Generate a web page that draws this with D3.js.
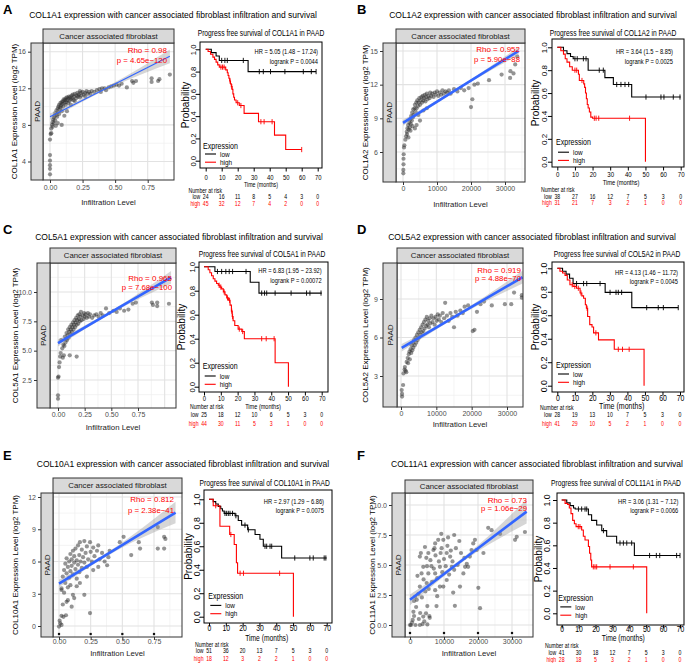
<!DOCTYPE html>
<html><head><meta charset="utf-8">
<script src="https://cdn.jsdelivr.net/npm/d3@7"></script>
<style>body{margin:0;background:#fff}svg{display:block}</style>
</head><body>
<script>
// ---------------- DATA ----------------
const panelLetters = ["A","B","C","D","E","F"];
const genes = ["COL1A1","COL1A2","COL5A1","COL5A2","COL10A1","COL11A1"];
const mainTitles = [
 "COL1A1 expression with cancer associated fibroblast infiltration and survival",
 "COL1A2  expression with cancer associated fibroblast infiltration and survival",
 "COL5A1 expression with cancer associated fibroblast infiltration and survival",
 "COL5A2 expression with cancer associated fibroblast infiltration and survival",
 "COL10A1 expression with cancer associated fibroblast infiltration and survival",
 "COL11A1 expression with cancer associated fibroblast infiltration and survival"];
const stripTopLabel = "Cancer associated fibroblast";
const stripSideLabel = "PAAD";
const xAxisTitle = "Infiltration Level";
const rhoLabels = ["Rho = 0.98","Rho = 0.952","Rho = 0.965","Rho = 0.919","Rho = 0.812","Rho = 0.73"];
const pLabels = ["p = 4.65e\u2212120","p = 5.90e\u221288","p = 7.68e\u2212100","p = 4.88e\u221270","p = 2.38e\u221241","p = 1.06e\u221229"];
const hrLabels = ["HR = 5.05 (1.48 \u2212 17.24)","HR = 3.64 (1.5 \u2212 8.85)","HR = 6.83 (1.95 \u2212 23.92)","HR = 4.13 (1.46 \u2212 11.72)","HR = 2.97 (1.29 \u2212 6.86)","HR = 3.06 (1.31 \u2212 7.12)"];
const logrankLabels = ["logrank P = 0.0044","logrank P = 0.0025","logrank P = 0.00072","logrank P = 0.0045","logrank P = 0.0075","logrank P = 0.0066"];

const fracTicks = [0,0.25,0.5,0.75];
const countTicks = [0,10000,20000,30000];
const yTicksA = [4,8,12,16], yTicksB = [6,9,12,15], yTicksC = [2.5,5,7.5,10],
      yTicksD = [3,6,9], yTicksE = [0,3,6,9,12], yTicksF = [0,2.5,5,7.5,10];
const timeTicks = [0,10,20,30,40,50,60,70];
const probTicks = [0,0.2,0.4,0.6,0.8,1.0];
const riskTimes = [0,10,20,30,40,50,60,70];

const riskLowA = [24,16,11,8,5,4,3,0],  riskHighA = [45,32,12,7,4,2,0,0];
const riskLowB = [38,27,16,12,7,5,3,0], riskHighB = [31,21,7,3,2,1,0,0];
const riskLowC = [25,18,12,10,6,5,3,0], riskHighC = [44,30,11,5,3,1,0,0];
const riskLowD = [28,19,13,10,7,5,3,0], riskHighD = [41,29,10,5,2,1,0,0];
const riskLowE = [51,36,20,13,7,5,3,0], riskHighE = [18,12,3,2,2,1,0,0];
const riskLowF = [41,30,18,12,7,5,3,0], riskHighF = [28,18,5,3,2,1,0,0];

// scatter points [infiltration, expression]
const scatterA = [[0,2.6],[0,3.2],[0,3.6],[0,4.1],[0,4.7],[0,6.4],[0.005,7.0],[0.01,7.1],[0.01,7.6],[0.015,8.0],[0.02,8.3],[0.02,7.8],[0.025,8.6],[0.03,8.2],[0.03,8.8],[0.035,9.0],[0.04,8.5],[0.04,9.3],[0.045,7.9],[0.05,9.1],[0.05,9.6],[0.055,8.9],[0.06,9.4],[0.06,9.8],[0.065,10.0],[0.07,9.2],[0.07,10.2],[0.075,9.7],[0.08,10.4],[0.08,9.9],[0.085,10.1],[0.09,10.5],[0.09,9.5],[0.095,10.3],[0.1,10.6],[0.1,10.0],[0.105,10.8],[0.11,10.4],[0.115,10.7],[0.12,10.2],[0.12,10.9],[0.125,10.5],[0.13,11.0],[0.13,10.7],[0.14,10.4],[0.14,10.9],[0.145,11.1],[0.15,10.6],[0.155,11.0],[0.16,10.8],[0.165,11.2],[0.17,10.9],[0.175,11.3],[0.18,10.7],[0.185,11.1],[0.19,11.4],[0.2,10.9],[0.205,11.2],[0.21,11.5],[0.215,11.1],[0.22,11.3],[0.23,11.0],[0.235,11.5],[0.24,11.2],[0.25,11.6],[0.26,11.3],[0.27,11.5],[0.28,11.7],[0.29,11.4],[0.3,11.6],[0.31,11.4],[0.32,11.7],[0.34,11.6],[0.36,11.8],[0.38,11.9],[0.39,11.6],[0.4,12.0],[0.42,12.0],[0.43,11.8],[0.45,12.1],[0.47,12.2],[0.49,12.3],[0.51,12.4],[0.53,12.3],[0.55,12.5],[0.59,12.1],[0.63,12.8],[0.64,12.6],[0.66,12.8],[0.78,13.1],[0.78,12.7],[0.83,12.8],[0.84,13.0],[0.92,13.5],[0.06,8.2],[0.09,8.0],[0.11,9.0],[0.13,9.5],[0.16,10.2],[0.19,10.6],[0.23,11.7],[0.27,11.1]];
const scatterB = [[100,4.1],[100,4.4],[150,4.9],[150,5.4],[200,5.8],[300,6.4],[400,6.6],[700,7.1],[900,7.4],[1100,7.8],[1300,8.1],[1500,8.4],[1200,7.6],[1700,8.0],[1900,8.6],[2000,8.2],[2100,8.9],[2300,8.5],[2400,9.2],[2600,8.8],[2700,9.5],[2900,9.1],[3000,9.8],[3200,9.3],[3400,9.9],[3500,10.2],[3700,9.6],[3900,10.4],[4000,9.9],[4200,10.6],[4400,10.1],[4600,10.4],[4800,10.8],[5000,10.2],[5200,10.6],[5400,10.9],[5600,10.4],[5800,11.0],[6000,10.6],[6200,10.8],[6400,11.1],[6600,10.5],[6800,10.9],[7000,11.2],[7200,10.7],[7500,11.0],[7800,10.8],[8000,11.3],[8300,11.0],[8600,11.2],[9000,10.9],[9300,11.3],[9600,11.1],[10000,11.4],[10400,11.0],[10800,11.3],[11200,11.1],[11600,11.5],[12000,11.2],[12500,11.4],[13000,11.3],[13500,11.5],[14000,11.2],[15000,11.6],[16000,11.4],[17000,11.7],[18000,11.5],[19300,11.7],[20000,10.0],[20400,10.7],[21000,12.0],[22000,12.1],[25300,12.4],[29000,12.9],[31500,12.6],[31600,13.2],[32500,13.0],[33000,13.8],[33600,14.5],[3500,8.1],[4000,8.4],[5000,8.8],[4500,9.3],[6000,9.7],[7000,9.9],[2200,7.9],[2800,8.3],[1600,7.3]];
const scatterC = [[0,0.9],[0,1.2],[0,2.7],[0.005,2.8],[0.01,3.6],[0.015,4.0],[0.02,4.5],[0.025,4.8],[0.03,5.9],[0.04,5.2],[0.045,4.4],[0.05,5.5],[0.055,4.6],[0.06,5.4],[0.065,6.2],[0.07,5.7],[0.075,6.0],[0.08,6.5],[0.085,5.9],[0.09,6.3],[0.095,6.8],[0.1,6.1],[0.105,6.6],[0.11,4.6],[0.11,7.0],[0.115,6.4],[0.12,6.8],[0.125,7.2],[0.13,6.6],[0.135,7.0],[0.14,7.4],[0.145,6.8],[0.15,7.2],[0.155,7.6],[0.16,7.0],[0.165,7.4],[0.17,7.8],[0.175,4.5],[0.175,7.2],[0.18,7.6],[0.185,8.0],[0.19,7.3],[0.195,7.7],[0.2,8.1],[0.205,7.5],[0.21,7.9],[0.215,8.3],[0.22,7.6],[0.23,8.0],[0.24,7.7],[0.245,8.2],[0.25,7.9],[0.26,8.1],[0.27,7.8],[0.28,8.2],[0.29,7.9],[0.3,8.1],[0.32,7.8],[0.34,8.0],[0.36,8.1],[0.38,7.9],[0.4,8.2],[0.42,8.0],[0.45,8.6],[0.48,8.2],[0.52,8.4],[0.55,8.3],[0.58,8.6],[0.62,8.4],[0.66,8.5],[0.7,9.0],[0.73,9.1],[0.88,9.1],[0.89,8.9],[0.93,9.1],[0.93,8.8],[1.04,9.0]];
const scatterD = [[300,1.4],[300,1.6],[200,1.9],[600,2.3],[700,3.2],[1000,3.5],[1500,3.3],[1100,3.7],[1600,4.1],[1300,3.4],[1900,4.4],[2000,4.0],[2200,4.7],[2400,4.9],[2500,4.3],[2700,5.1],[2900,4.8],[3000,5.4],[3200,5.0],[3400,5.6],[3500,5.2],[3700,5.8],[3900,5.4],[4100,6.0],[4300,5.6],[4500,6.2],[4700,5.8],[4900,6.4],[5100,6.0],[5300,6.6],[5500,6.2],[5700,6.8],[5900,6.4],[6100,7.0],[6300,6.5],[6500,7.2],[6700,6.7],[6900,7.4],[7100,6.9],[7300,7.6],[7500,7.0],[7700,7.3],[7900,6.8],[8100,7.5],[8300,7.1],[8600,7.7],[8900,7.2],[9200,7.5],[9500,7.0],[9800,7.6],[10100,7.3],[10400,7.8],[10700,7.4],[11000,7.7],[11400,7.2],[11800,7.9],[12200,7.5],[12500,8.7],[13000,7.7],[13500,7.3],[14000,7.9],[14500,7.6],[15000,6.8],[15500,8.0],[16000,7.7],[16800,8.1],[17500,7.9],[18000,8.4],[19000,8.5],[20300,6.5],[20800,6.6],[21500,8.0],[22500,8.6],[23500,8.8],[25700,8.5],[29400,8.6],[31200,8.6],[32000,9.5],[34200,9.1],[34200,9.3]];
const scatterE = [[0,-0.05],[0.005,0.5],[0.01,0.25],[0.02,0.1],[0.02,0.95],[0.035,0.85],[0.055,1.0],[0.1,1.8],[0.06,2.25],[0.07,2.4],[0.12,2.6],[0.11,2.9],[0.2,2.9],[0.245,1.2],[0.02,3.35],[0.02,3.5],[0.05,4.0],[0.09,3.8],[0.14,3.7],[0.165,4.0],[0.22,4.6],[0.27,5.2],[0.31,5.5],[0.38,5.65],[0.39,6.4],[0.4,7.0],[0.48,7.8],[0.51,8.3],[0.57,6.6],[0.63,7.8],[0.64,7.2],[0.78,9.2],[0.78,7.2],[0.83,7.2],[0.83,8.3],[0.84,8.1],[0.03,4.6],[0.04,5.2],[0.05,5.8],[0.06,4.9],[0.06,6.3],[0.07,5.5],[0.08,6.0],[0.08,4.5],[0.09,6.7],[0.09,5.1],[0.1,5.6],[0.1,6.2],[0.11,7.0],[0.11,4.8],[0.12,5.9],[0.12,6.5],[0.13,5.3],[0.13,7.2],[0.14,6.1],[0.14,4.4],[0.15,7.5],[0.15,5.7],[0.16,6.6],[0.16,5.0],[0.165,7.8],[0.17,6.0],[0.18,7.1],[0.18,5.4],[0.19,6.4],[0.2,7.9],[0.2,5.9],[0.21,6.8],[0.22,7.4],[0.22,5.5],[0.23,6.2],[0.245,7.8],[0.25,6.9],[0.26,6.0],[0.27,7.3],[0.28,6.5],[0.3,7.0],[0.31,7.5],[0.32,6.2],[0.34,6.8],[0.36,6.0],[0.04,3.1],[0.07,3.6],[0.03,2.0]];
const scatterF = [[0,0.0],[800,0.42],[1200,0.75],[300,0.0],[2900,0.0],[3700,0.08],[5100,0.05],[5700,0.75],[4700,0.97],[3900,0.7],[5100,1.58],[7800,1.58],[7400,2.9],[8800,3.2],[2000,2.1],[1500,2.35],[2900,3.2],[4900,3.5],[5400,4.3],[3400,4.3],[3900,4.85],[2900,5.7],[4400,6.5],[5400,6.0],[6900,6.25],[7400,6.8],[8300,7.1],[9800,7.1],[9300,6.4],[10800,6.0],[11800,5.7],[12300,4.85],[8800,4.85],[7400,4.3],[10800,3.75],[9800,3.2],[13200,1.6],[12700,2.7],[14700,3.2],[15700,4.3],[16700,5.1],[17600,5.7],[18600,6.8],[19100,7.1],[18100,6.25],[17100,4.85],[16200,4.85],[19600,6.25],[21600,6.0],[24000,7.9],[26500,7.6],[30900,7.1],[31400,7.35],[33800,7.75],[20100,3.1],[20600,1.4],[1000,1.1],[1800,1.5],[2500,2.6],[3000,1.0],[3500,2.3],[4000,3.8],[4500,2.8],[5000,4.9],[5500,3.0],[6000,5.4],[6500,3.6],[7000,4.7],[7500,5.8],[8000,3.9],[8500,5.3],[9000,6.0],[9500,4.4],[10000,5.5],[10500,4.9],[11000,6.6],[11500,4.2],[12000,6.2],[12500,5.3],[13000,4.6],[13500,6.4],[14000,5.0],[15000,6.0],[16000,5.6],[3200,6.0],[4800,5.6],[6300,4.9],[7200,6.4],[2200,4.1],[1200,2.0],[600,0.2],[2600,0.5],[4200,0.3],[5800,0.6],[1600,0.0],[8000,2.4],[9200,7.6],[11200,7.3],[23000,8.1],[14500,7.0],[13000,7.5]];

// fitted regression line with confidence half-width: [x, fitted, halfwidth]
const fitA = [[0,8.9,0.35],[0.46,12.2,0.15],[0.92,15.5,0.75]];
const fitB = [[0,8.6,0.25],[17000,11.8,0.1],[34000,15.0,0.35]];
const fitC = [[0,5.65,0.3],[0.53,8.45,0.12],[1.06,11.25,0.55]];
const fitD = [[200,5.2,0.3],[17300,7.95,0.12],[34400,10.7,0.5]];
const fitE = [[0,3.95,0.35],[0.46,7.25,0.2],[0.92,10.55,1.0]];
const fitF = [[0,2.1,0.45],[17000,5.75,0.18],[34300,9.45,1.0]];

// Kaplan-Meier steps [time, survival], last follow-up time, censor times
const kmLowA = [[0,1],[3.5,0.97],[6.5,0.94],[8.5,0.9],[26.5,0.8]], kmLowEndA = 69,
      censorLowA = [10,12,13.5,23.5,33.5,36,40.5,49.5,61,66,69];
const kmHighA = [[0,1],[1.5,0.98],[3,0.955],[4.5,0.93],[5.5,0.91],[6.5,0.885],[7.5,0.86],[8.5,0.84],[12.5,0.815],[13.5,0.79],[14,0.765],[14.5,0.74],[15,0.715],[15.5,0.69],[16,0.665],[16.5,0.64],[17,0.6],[17.5,0.57],[18,0.545],[19,0.52],[21,0.495],[24,0.425],[33,0.35],[43,0.23],[50,0.1]], kmHighEndA = 60,
      censorHighA = [9.5,10.5,11.5,15.2,16.3,20,22,34.5,36.5,41.5,60];
const kmLowB = [[0,1],[3.5,0.97],[5.5,0.945],[7.5,0.92],[9,0.9],[17.5,0.8],[27,0.735],[31.8,0.675],[42.2,0.565]], kmLowEndB = 70,
      censorLowB = [10,11.3,14.8,16.3,23.8,26.1,33.7,36.1,38.4,40.5,50.3,58.8,60.5,65.8,69.6];
const kmHighB = [[0,1],[2,0.97],[3.5,0.94],[4.5,0.9],[5.5,0.87],[7,0.83],[8.5,0.8],[12,0.765],[12.5,0.71],[15,0.68],[15.5,0.65],[16,0.6],[16.5,0.55],[17,0.5],[17.5,0.47],[18.2,0.435],[19,0.39],[20,0.38],[50,0]], kmHighEndB = 50,
      censorHighB = [10,11,14,21,22,23.5,41];
const kmLowC = [[0,1],[6.5,0.96],[27.5,0.87],[32.7,0.78]], kmLowEndC = 70,
      censorLowC = [8,10.5,13,15,17,25,34.3,36,37.3,42.3,51.8,61,63,69.6];
const kmHighC = [[0,1],[2.5,0.975],[3.5,0.95],[4.5,0.925],[5.5,0.9],[6.5,0.88],[7.5,0.86],[8.5,0.845],[9.5,0.83],[10.5,0.815],[11.5,0.79],[12.5,0.765],[13.5,0.74],[14.5,0.72],[15.5,0.68],[16.3,0.63],[16.8,0.585],[17.3,0.55],[18.3,0.51],[20.3,0.48],[22.5,0.46],[24,0.4],[42.3,0.2],[50.2,0]], kmHighEndC = 50.2,
      censorHighC = [9,10,12,14,15.2,16.5,17,21,23,34.3,37,41.7];
const kmLowD = [[0,1],[3,0.975],[5,0.95],[7,0.915],[9,0.87],[27.3,0.795],[42.5,0.665]], kmLowEndD = 69,
      censorLowD = [11,15,16.8,24.4,30.1,33.5,34.8,36.7,51,57.6,60.5,69];
const kmHighD = [[0,1],[1.5,0.975],[3,0.96],[4.4,0.94],[5.7,0.9],[7.2,0.86],[9,0.845],[11,0.83],[13,0.79],[14,0.765],[15,0.745],[16,0.69],[16.6,0.66],[17.3,0.59],[18.5,0.52],[19.8,0.5],[20.7,0.45],[23.5,0.39],[32.5,0.31],[49.5,0]], kmHighEndD = 49.5,
      censorHighD = [8.5,10,12,13.5,17,22,34.8,37.2,41];
const kmLowE = [[0,1],[2.5,0.98],[4,0.96],[5.5,0.94],[7,0.92],[8,0.9],[9,0.88],[15.5,0.86],[17.4,0.82],[19.4,0.78],[23,0.74],[27.4,0.7],[30.3,0.66],[32.3,0.6],[43.2,0.5]], kmLowEndE = 70,
      censorLowE = [9.5,10.5,11.5,12.5,14,16,21.4,23.4,33.3,34.3,36.3,37.3,51,60,62,68.5,69.5];
const kmHighE = [[0,1],[2.5,0.945],[6.5,0.77],[12.3,0.7],[15,0.615],[16.3,0.46],[17,0.37],[50.2,0]], kmHighEndE = 50.2,
      censorHighE = [4,13,18.5,20.5,42];
const kmLowF = [[0,1],[3,0.975],[5,0.95],[7,0.93],[8,0.92],[15.8,0.87],[17.7,0.82],[20.7,0.78],[23.7,0.73],[26.6,0.68],[32.5,0.62],[43,0.51]], kmLowEndF = 70,
      censorLowF = [9.9,11.8,13.8,14.8,24.7,34.5,36.5,38.5,41.4,52,56,58,68,70];
const kmHighF = [[0,1],[2,0.97],[3.5,0.96],[4.5,0.93],[5.5,0.88],[6.5,0.82],[7.5,0.79],[8.5,0.765],[11.8,0.735],[12.8,0.68],[13.8,0.647],[15.8,0.59],[16.5,0.53],[17.2,0.47],[17.7,0.41],[50.3,0]], kmHighEndF = 50.3,
      censorHighF = [9.8,10.8,18.7,19.7,20.7,28.6,42.4];

// ---------------- LAYOUT (pixel geometry) ----------------
const layouts = [
{ lpos:[3,9], tpos:[173,15],
  sc:{ xr:[0,0.75], xp:[50,147.7], yr:[4,16], yp:[161.5,51.7], box:[43,43,174,180], stripTop:29, stripLeft:31, xlabY:188, xtitleY:202, ytitleX:14, rho:[167,50,60], lw:1.2, dotY:null, xFmt:".2f", yFmt:"d" },
  km:{ box:[200,42,322,168], xp:[205.7,317.7], yp:[160.7,49.3], title:[261,33], hr:[318,52,62], ytickX:193, xtickY:177, time:[261,184.5], timeSize:6.5, tick:7.2, probX:185, leg:[203,145.6,154,162.2], nar:[188.5,190.5], riskY:[197.2,204] } },
{ lpos:[357,9], tpos:[533,15],
  sc:{ xr:[0,30000], xp:[403,505], yr:[6,15], yp:[152,51], box:[396,43,525,182], stripTop:29, stripLeft:383, xlabY:189, xtitleY:204, ytitleX:365, rho:[520,49,59], lw:2.6, dotY:null, xFmt:"d", yFmt:"d" },
  km:{ box:[552,39,684,167], xp:[557.3,680.7], yp:[161.7,47.3], title:[613,33], hr:[673,52,62], ytickX:544, xtickY:174, time:[621,182.5], timeSize:7, tick:7.5, probX:535, leg:[556,141.6,152.2,160.4], nar:[541,189.5], riskY:[196.8,203.2] } },
{ lpos:[3,229], tpos:[179,237],
  sc:{ xr:[0,0.75], xp:[58,138], yr:[2.5,10], yp:[380,292], box:[50,263,176,408], stripTop:248, stripLeft:37, xlabY:415, xtitleY:427, ytitleX:15, rho:[172,278,287], lw:2.6, dotY:null, xFmt:".2f", yFmt:".1f" },
  km:{ box:[199,262,328,392], xp:[204,321.7], yp:[386.7,266.7], title:[262,254], hr:[321.7,270.7,280.7], ytickX:191.7, xtickY:398.3, time:[263,407], timeSize:6.8, tick:7.2, probX:181.7, leg:[202.7,365.8,376,384.3], nar:[190,407], riskY:[415,423.3] } },
{ lpos:[357,229], tpos:[532,237],
  sc:{ xr:[0,30000], xp:[401,507], yr:[3,9], yp:[376,299], box:[397,263,523,407], stripTop:248, stripLeft:383, xlabY:414, xtitleY:424, ytitleX:365, rho:[521,270,278.5], lw:2.6, dotY:null, xFmt:"d", yFmt:"d" },
  km:{ box:[552,262,684,392], xp:[557.3,680], yp:[385.7,268.3], title:[617,254], hr:[678,272.3,281.7], ytickX:544, xtickY:397.8, time:[621.7,406], timeSize:8.6, tick:8.4, probX:535, leg:[556,364.5,374,382.3], nar:[540,407.3], riskY:[415,423.3] } },
{ lpos:[3,455], tpos:[183,464],
  sc:{ xr:[0,0.75], xp:[59,154], yr:[0,12], yp:[626,497], box:[53,493,182,637], stripTop:478, stripLeft:41, xlabY:642, xtitleY:653, ytitleX:15, rho:[174,499.5,510], lw:2.6, dotY:634, xFmt:".2f", yFmt:"d" },
  km:{ box:[204,490,332,623], xp:[209,326.7], yp:[616.7,499.3], title:[264.7,483.3], hr:[324,501.7,511], ytickX:196.7, xtickY:628.3, time:[266.7,637.8], timeSize:8.2, tick:8.3, probX:188.3, leg:[208.3,596,605.4,613.7], nar:[195,645], riskY:[651.2,658.3] } },
{ lpos:[357,455], tpos:[537,464],
  sc:{ xr:[0,30000], xp:[410,512], yr:[0,10], yp:[625,505], box:[405,493,533,637], stripTop:480, stripLeft:392, xlabY:642, xtitleY:653, ytitleX:371.7, rho:[527,500,508.5], lw:2.6, dotY:633, xFmt:"d", yFmt:".1f" },
  km:{ box:[557,493,684,625], xp:[561.7,680], yp:[613.3,500], title:[616,483.3], hr:[678.3,501.7,510.7], ytickX:546.7, xtickY:629.3, time:[623.3,638.3], timeSize:8.2, tick:8.3, probX:538.3, leg:[558.3,597.6,606.9,615.2], nar:[545,646.2], riskY:[652.8,659.4] } }
];

const panels = [
 {scatter:scatterA, fit:fitA, yTicks:yTicksA, xTicks:fracTicks, low:kmLowA, lowEnd:kmLowEndA, lowC:censorLowA, high:kmHighA, highEnd:kmHighEndA, highC:censorHighA, rl:riskLowA, rh:riskHighA},
 {scatter:scatterB, fit:fitB, yTicks:yTicksB, xTicks:countTicks, low:kmLowB, lowEnd:kmLowEndB, lowC:censorLowB, high:kmHighB, highEnd:kmHighEndB, highC:censorHighB, rl:riskLowB, rh:riskHighB},
 {scatter:scatterC, fit:fitC, yTicks:yTicksC, xTicks:fracTicks, low:kmLowC, lowEnd:kmLowEndC, lowC:censorLowC, high:kmHighC, highEnd:kmHighEndC, highC:censorHighC, rl:riskLowC, rh:riskHighC},
 {scatter:scatterD, fit:fitD, yTicks:yTicksD, xTicks:countTicks, low:kmLowD, lowEnd:kmLowEndD, lowC:censorLowD, high:kmHighD, highEnd:kmHighEndD, highC:censorHighD, rl:riskLowD, rh:riskHighD},
 {scatter:scatterE, fit:fitE, yTicks:yTicksE, xTicks:fracTicks, low:kmLowE, lowEnd:kmLowEndE, lowC:censorLowE, high:kmHighE, highEnd:kmHighEndE, highC:censorHighE, rl:riskLowE, rh:riskHighE},
 {scatter:scatterF, fit:fitF, yTicks:yTicksF, xTicks:countTicks, low:kmLowF, lowEnd:kmLowEndF, lowC:censorLowF, high:kmHighF, highEnd:kmHighEndF, highC:censorHighF, rl:riskLowF, rh:riskHighF}
];

// ---------------- DRAWING ----------------
const FONT = "'Liberation Sans', Arial, Helvetica, sans-serif";
const svg = d3.select("body").append("svg").attr("width",685).attr("height",663).attr("font-family",FONT);
svg.append("rect").attr("width",685).attr("height",663).attr("fill","#fff");
const SX = 0.82; // horizontal compression of the survival-plot typography
const RISK = 6.3;

function T(parent, x, y, str, size, o = {}) {
  let tr = `translate(${x},${y})`;
  if (o.rot) tr += ` rotate(${o.rot})`;
  if (o.sx) tr += ` scale(${o.sx},1)`;
  const t = parent.append("text").attr("transform", tr).attr("font-size", size)
    .attr("text-anchor", o.anchor || "start").attr("dy", "0.35em")
    .attr("fill", o.fill || "#000").text(str);
  if (o.bold) t.attr("font-weight", "bold");
  return t;
}

function drawScatter(i) {
  const L = layouts[i], s = L.sc, P = panels[i];
  const [bx0, by0, bx1, by1] = s.box;
  const x = d3.scaleLinear().domain(s.xr).range(s.xp);
  const y = d3.scaleLinear().domain(s.yr).range(s.yp);
  const g = svg.append("g");
  const cid = "clip" + i;
  g.append("clipPath").attr("id", cid).append("rect")
    .attr("x", bx0).attr("y", by0).attr("width", bx1 - bx0).attr("height", by1 - by0);
  g.append("rect").attr("x", bx0).attr("y", by0).attr("width", bx1 - bx0).attr("height", by1 - by0).attr("fill", "#fff");
  const xs = P.xTicks[1] - P.xTicks[0], ys = P.yTicks[1] - P.yTicks[0];
  const xlo = x.invert(bx0), xhi = x.invert(bx1), ylo = y.invert(by1), yhi = y.invert(by0);
  const ks = d3.range(-20, 40);
  const xMaj = ks.map(k => P.xTicks[0] + k * xs).filter(v => v >= xlo && v <= xhi);
  const xMin = ks.map(k => P.xTicks[0] + (k + 0.5) * xs).filter(v => v >= xlo && v <= xhi);
  const yMaj = ks.map(k => P.yTicks[0] + k * ys).filter(v => v >= ylo && v <= yhi);
  const yMin = ks.map(k => P.yTicks[0] + (k + 0.5) * ys).filter(v => v >= ylo && v <= yhi);
  const grid = g.append("g");
  grid.selectAll(".vmin").data(xMin).join("line").attr("x1", d => x(d)).attr("x2", d => x(d)).attr("y1", by0).attr("y2", by1).attr("stroke", "#EFEFEF").attr("stroke-width", 0.7);
  grid.selectAll(".hmin").data(yMin).join("line").attr("y1", d => y(d)).attr("y2", d => y(d)).attr("x1", bx0).attr("x2", bx1).attr("stroke", "#EFEFEF").attr("stroke-width", 0.7);
  grid.selectAll(".vmaj").data(xMaj).join("line").attr("x1", d => x(d)).attr("x2", d => x(d)).attr("y1", by0).attr("y2", by1).attr("stroke", "#E2E2E2").attr("stroke-width", 1.1);
  grid.selectAll(".hmaj").data(yMaj).join("line").attr("y1", d => y(d)).attr("y2", d => y(d)).attr("x1", bx0).attr("x2", bx1).attr("stroke", "#E2E2E2").attr("stroke-width", 1.1);

  const inner = g.append("g").attr("clip-path", `url(#${cid})`);
  inner.selectAll("circle").data(P.scatter).join("circle")
    .attr("cx", d => x(d[0])).attr("cy", d => y(d[1])).attr("r", 2.1)
    .attr("fill", "#2a2a2a").attr("fill-opacity", 0.5);
  const area = d3.area().x(d => x(d[0])).y0(d => y(d[1] - d[2])).y1(d => y(d[1] + d[2])).curve(d3.curveNatural);
  inner.append("path").attr("d", area(P.fit)).attr("fill", "#999").attr("fill-opacity", 0.4);
  const line = d3.line().x(d => x(d[0])).y(d => y(d[1]));
  inner.append("path").attr("d", line(P.fit)).attr("fill", "none").attr("stroke", "#3366FF").attr("stroke-width", s.lw);
  if (s.dotY) {
    g.selectAll(".sq").data(P.xTicks).join("rect").attr("x", d => x(d) - 1.1).attr("y", s.dotY - 1.1)
      .attr("width", 2.2).attr("height", 2.2).attr("fill", "#111");
  }
  g.append("rect").attr("x", bx0).attr("y", by0).attr("width", bx1 - bx0).attr("height", by1 - by0)
    .attr("fill", "none").attr("stroke", "#333").attr("stroke-width", 1);
  // strips
  g.append("rect").attr("x", bx0).attr("y", s.stripTop).attr("width", bx1 - bx0).attr("height", by0 - s.stripTop)
    .attr("fill", "#D9D9D9").attr("stroke", "#333").attr("stroke-width", 1);
  T(g, (bx0 + bx1) / 2, (s.stripTop + by0) / 2, stripTopLabel, 7.8, {anchor: "middle", fill: "#1A1A1A"});
  g.append("rect").attr("x", s.stripLeft).attr("y", by0).attr("width", bx0 - s.stripLeft).attr("height", by1 - by0)
    .attr("fill", "#D9D9D9").attr("stroke", "#333").attr("stroke-width", 1);
  T(g, (s.stripLeft + bx0) / 2, (by0 + by1) / 2, stripSideLabel, 8, {anchor: "middle", rot: -90, fill: "#1A1A1A"});
  // axes
  const ya = g.append("g").attr("transform", `translate(${s.stripLeft},0)`)
    .call(d3.axisLeft(y).tickValues(P.yTicks).tickSize(3).tickPadding(2).tickFormat(d3.format(s.yFmt)));
  ya.select(".domain").remove();
  ya.attr("font-family", FONT).attr("font-size", 7);
  ya.selectAll("line").attr("stroke", "#333");
  ya.selectAll("text").attr("fill", "#4D4D4D");
  const xa = g.append("g").attr("transform", `translate(0,${by1})`)
    .call(d3.axisBottom(x).tickValues(P.xTicks).tickSize(3).tickFormat(d3.format(s.xFmt)));
  xa.select(".domain").remove();
  xa.attr("font-family", FONT).attr("font-size", 7);
  xa.selectAll("line").attr("stroke", "#333");
  xa.selectAll("text").attr("fill", "#4D4D4D").attr("y", s.xlabY - by1).attr("dy", "0.35em");
  T(g, (bx0 + bx1) / 2, s.xtitleY, xAxisTitle, 7.8, {anchor: "middle", fill: "#222"});
  T(g, s.ytitleX, (by0 + by1) / 2, genes[i] + " Expression Level (log2 TPM)", 8, {anchor: "middle", rot: -90});
  T(g, s.rho[0], s.rho[1], rhoLabels[i], 8, {anchor: "end", fill: "#FF0000"});
  T(g, s.rho[0], s.rho[2], pLabels[i], 7.8, {anchor: "end", fill: "#FF0000"});
}

function stepAt(steps, t) {
  let v = steps[0][1];
  for (const d of steps) if (d[0] <= t) v = d[1];
  return v;
}

function drawKM(i) {
  const L = layouts[i], k = L.km, P = panels[i];
  const [bx0, by0, bx1, by1] = k.box;
  const x = d3.scaleLinear().domain([0, 70]).range(k.xp);
  const y = d3.scaleLinear().domain([0, 1]).range(k.yp);
  const g = svg.append("g");
  T(g, k.title[0], k.title[1], "Progress free survival of " + genes[i] + " in PAAD", 8.2, {anchor: "middle", sx: SX});
  // axes
  const ya = g.append("g").attr("transform", `translate(${bx0},0)`)
    .call(d3.axisLeft(y).tickValues(probTicks).tickSize(4).tickFormat(d3.format(".1f")));
  ya.select(".domain").remove();
  ya.attr("font-family", FONT).attr("font-size", k.tick + 0.5);
  ya.selectAll("line").attr("stroke", "#000");
  ya.selectAll("text").attr("fill", "#000").attr("transform", "rotate(-90)")
    .attr("x", 0).attr("y", -(bx0 - k.ytickX) + 3).attr("dy", 0).attr("text-anchor", "middle");
  const xa = g.append("g").attr("transform", `translate(0,${by1})`)
    .call(d3.axisBottom(x).tickValues(timeTicks).tickSize(3.5).tickFormat(d3.format("d")));
  xa.select(".domain").remove();
  xa.attr("font-family", FONT).attr("font-size", k.tick);
  xa.selectAll("line").attr("stroke", "#000");
  xa.selectAll("text").attr("fill", "#000").attr("y", 0).attr("dy", "0.35em")
    .attr("transform", `translate(0,${k.xtickY - by1}) scale(${SX},1)`);
  // curves
  const line = d3.line().x(d => x(d[0])).y(d => y(d[1])).curve(d3.curveStepAfter);
  const series = [
    {steps: P.low, end: P.lowEnd, cens: P.lowC, color: "#000000"},
    {steps: P.high, end: P.highEnd, cens: P.highC, color: "#FF0000"}
  ];
  series.forEach(sr => {
    const last = sr.steps[sr.steps.length - 1];
    const pts = last[0] < sr.end ? sr.steps.concat([[sr.end, last[1]]]) : sr.steps;
    g.append("path").attr("d", line(pts)).attr("fill", "none").attr("stroke", sr.color).attr("stroke-width", 1.1);
    g.selectAll(null).data(sr.cens).join("line")
      .attr("x1", d => x(d)).attr("x2", d => x(d))
      .attr("y1", d => y(stepAt(sr.steps, d)) - 2.6).attr("y2", d => y(stepAt(sr.steps, d)) + 2.6)
      .attr("stroke", sr.color).attr("stroke-width", 0.9);
  });
  g.append("rect").attr("x", bx0).attr("y", by0).attr("width", bx1 - bx0).attr("height", by1 - by0)
    .attr("fill", "none").attr("stroke", "#000").attr("stroke-width", 1);
  // labels
  T(g, k.probX, (by0 + by1) / 2, "Probability", 10, {anchor: "middle", rot: -90});
  T(g, k.time[0], k.time[1], "Time (months)", k.timeSize, {anchor: "middle", sx: SX});
  T(g, k.hr[0], k.hr[1], hrLabels[i], 7, {anchor: "end", sx: SX});
  T(g, k.hr[0], k.hr[2], logrankLabels[i], 7, {anchor: "end", sx: SX});
  // legend
  const [lx, ly0, ly1, ly2] = k.leg;
  T(g, lx, ly0, "Expression", 8.6, {sx: SX});
  [[ly1, "low", "#000"], [ly2, "high", "#FF0000"]].forEach(([yy, lab, c]) => {
    g.append("line").attr("x1", lx + 2).attr("x2", lx + 13).attr("y1", yy).attr("y2", yy).attr("stroke", c).attr("stroke-width", 1.1);
    T(g, lx + 17, yy, lab, 7.8, {sx: SX});
  });
  // number at risk
  T(g, k.nar[0], k.nar[1], "Number at risk", RISK, {sx: SX});
  [[k.riskY[0], "low", P.rl, "#000"], [k.riskY[1], "high", P.rh, "#FF0000"]].forEach(([yy, lab, vals, c]) => {
    T(g, x(0) - 5.5, yy, lab, RISK, {anchor: "end", sx: SX, fill: c});
    g.selectAll(null).data(riskTimes).join("text")
      .attr("transform", (t) => `translate(${x(t)},${yy}) scale(${SX},1)`)
      .attr("font-size", RISK).attr("text-anchor", "middle").attr("dy", "0.35em").attr("fill", c)
      .text((t, j) => vals[j]);
  });
}

panelLetters.forEach((letter, i) => {
  const L = layouts[i];
  T(svg, L.lpos[0], L.lpos[1], letter, 13, {bold: true});
  T(svg, L.tpos[0], L.tpos[1], mainTitles[i], 8.5, {anchor: "middle"});
  drawScatter(i);
  drawKM(i);
});
</script>
</body></html>
